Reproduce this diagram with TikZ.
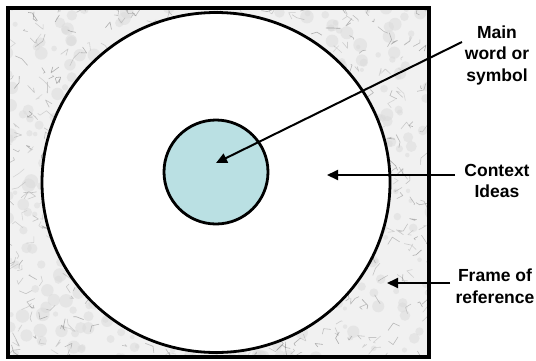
\documentclass[tikz,border=0pt]{standalone}
\usepackage{fontspec}
\setmainfont{Liberation Sans}
\usetikzlibrary{arrows.meta,shapes.geometric}
\tikzset{
  lbl/.style={font=\bfseries\fontsize{17.5}{21.5}\selectfont, align=center, inner sep=0pt},
  arr/.style={line width=2pt, -{Triangle[length=11pt,width=10pt]}},
  ring/.style={line width=2.8pt},
}
\begin{document}
\begin{tikzpicture}[x=1pt,y=-1pt]
\useasboundingbox (0,0) rectangle (536,360);
% marble frame
\begin{scope}
  \clip (7.5,7.5) rectangle (429,357);
  \fill[gray!11] (7.5,7.5) rectangle (429,357);
  \pgfmathsetseed{7}
  \foreach \i in {1,...,500}{
    \pgfmathsetmacro{\xa}{7+rnd*425}
    \pgfmathsetmacro{\ya}{7+rnd*352}
    \pgfmathsetmacro{\sz}{2+rnd*5}
    \fill[black!14, opacity=0.5] (\xa,\ya) circle (\sz);
  }
  \foreach \i in {1,...,650}{
    \pgfmathsetmacro{\xa}{7+rnd*425}
    \pgfmathsetmacro{\ya}{7+rnd*352}
    \pgfmathsetmacro{\xb}{\xa+(rnd-0.5)*16}
    \pgfmathsetmacro{\yb}{\ya+(rnd-0.5)*16}
    \pgfmathsetmacro{\xc}{\xb+(rnd-0.5)*16}
    \pgfmathsetmacro{\yc}{\yb+(rnd-0.5)*16}
    \pgfmathsetmacro{\gr}{25+rnd*35}
    \draw[black!\gr, line width=0.6pt, opacity=0.5, line join=round] (\xa,\ya) -- (\xb,\yb) -- (\xc,\yc);
  }
\end{scope}
\node[draw, line width=4pt, minimum width=421.5pt, minimum height=349.5pt, inner sep=0pt] (frame) at (218.25,182.25) {};
% context circle
\node[draw, ring, fill=white, ellipse, minimum width=348pt, minimum height=340pt, inner sep=0pt] (ctxc) at (216,182.5) {};
% main circle
\node[draw, ring, fill={rgb,255:red,186;green,224;blue,227}, circle, minimum size=104pt, inner sep=0pt] (mainc) at (216,172) {};
% labels
\node[lbl] (lmain) at (497,55) {Main\\word or\\symbol};
\node[lbl] (lctx) at (497,181) {Context\\Ideas};
\node[lbl] (lfr) at (495,286) {Frame of\\reference};
% arrow ends
\coordinate (smain) at (462,42);
\coordinate (tmain) at (216,163);
\coordinate (sctx) at (455,175);
\coordinate (tctx) at (327,175);
\coordinate (sfr) at (450,283);
\coordinate (tfr) at (387,283);
\draw[arr] (smain) -- (tmain);
\draw[arr] (sctx) -- (tctx);
\draw[arr] (sfr) -- (tfr);
\end{tikzpicture}
\end{document}
